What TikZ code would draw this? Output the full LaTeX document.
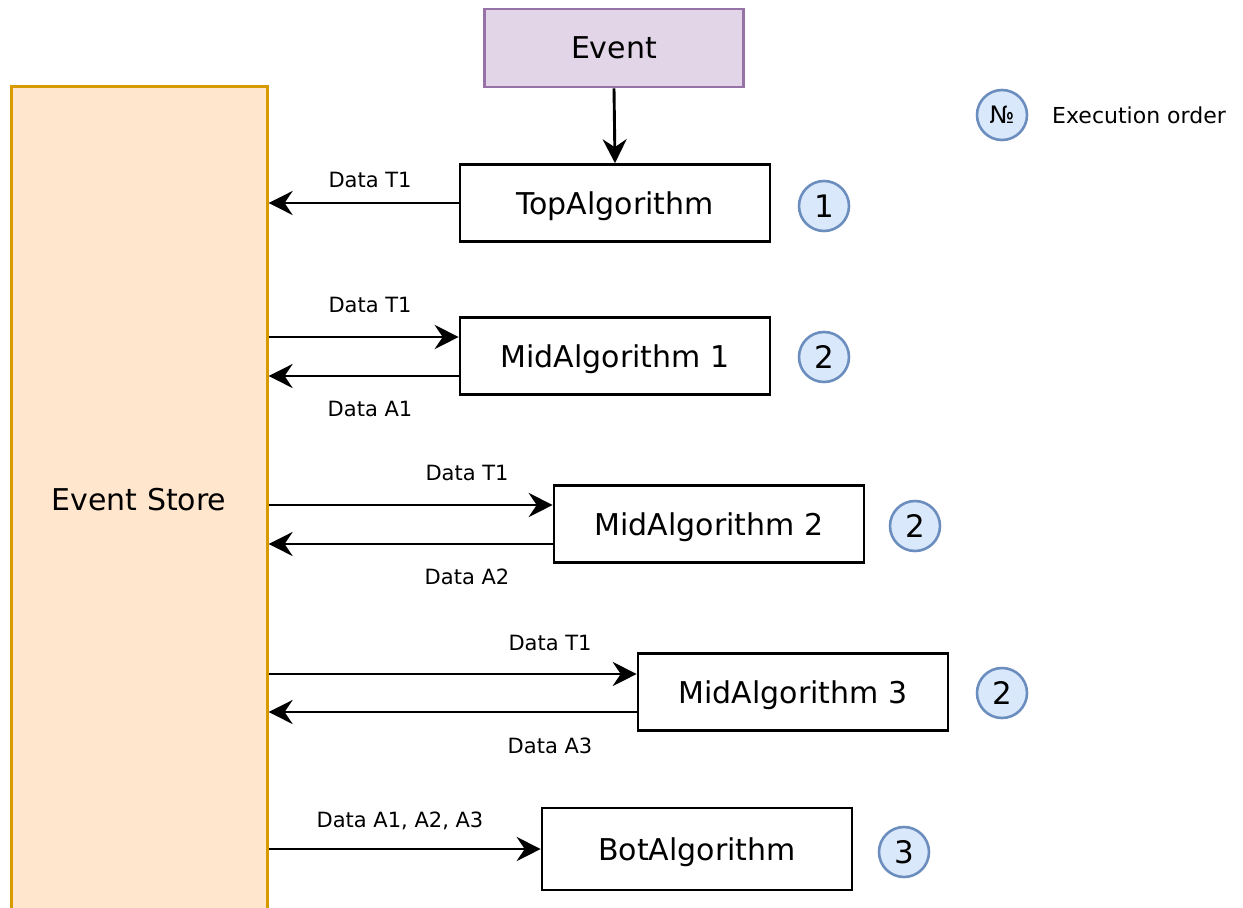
\documentclass[tikz,border=0pt]{standalone}
\usepackage{fontspec}
\setmainfont{DejaVu Sans}
\usetikzlibrary{arrows.meta}
\definecolor{storefill}{HTML}{FFE6CC}
\definecolor{storeline}{HTML}{D79B00}
\definecolor{evfill}{HTML}{E1D5E7}
\definecolor{evline}{HTML}{9673A6}
\definecolor{ordfill}{HTML}{DAE8FC}
\definecolor{ordline}{HTML}{6C8EBF}
\tikzset{
  algbox/.style={draw=black, line width=2.6pt, fill=white, minimum width=310pt,
    minimum height=77pt, inner sep=0pt, text depth=0pt, font=\fontsize{30}{36}\selectfont},
  ordcirc/.style={circle, draw=ordline, fill=ordfill, line width=2.6pt,
    minimum size=50pt, inner sep=0pt, font=\fontsize{31}{36}\selectfont},
  arr/.style={line width=2.9pt, -{Stealth[length=24pt, width=24pt, inset=8pt]}},
  lbl/.style={font=\fontsize{21}{25}\selectfont, inner sep=0pt},
}
\begin{document}
\begin{tikzpicture}[x=1pt, y=-1pt]
\useasboundingbox (0,0) rectangle (1243,908);
\clip (0,0) rectangle (1243,908);

% event store (runs past the lower edge)
\node[draw=storeline, fill=storefill, line width=2.6pt, minimum width=256pt,
  minimum height=850pt, inner sep=0pt, anchor=north west] (store) at (10,85) {};
\node[font=\fontsize{30}{36}\selectfont] (storelbl) at (139,500) {Event Store};

% incoming event
\node[draw=evline, fill=evfill, line width=2.6pt, minimum width=259pt,
  minimum height=78pt, inner sep=0pt, font=\fontsize{30}{36}\selectfont] (event) at (614,48) {Event};

% algorithms
\node[algbox] (top) at (615,203) {TopAlgorithm};
\node[algbox] (mid1) at (615,356) {MidAlgorithm 1};
\node[algbox] (mid2) at (709,524) {MidAlgorithm 2};
\node[algbox] (mid3) at (793,692) {MidAlgorithm 3};
\node[algbox, minimum height=82pt] (bot) at (697,849) {BotAlgorithm};

% execution order markers
\node[ordcirc] (o1) at (824,206) {1};
\node[ordcirc] (o2) at (824,357) {2};
\node[ordcirc] (o3) at (915,526) {2};
\node[ordcirc] (o4) at (1002,693) {2};
\node[ordcirc] (o5) at (904,852) {3};

% legend
\node[ordcirc, font=\fontsize{24}{28}\selectfont] (leg) at (1002,115) {№};
\node[font=\fontsize{22}{26}\selectfont, anchor=west, inner sep=0pt] (legtxt) at (1052,115) {Execution order};

% event into the first algorithm
\draw[arr] (event.south) -- (top.north);

% TopAlgorithm writes T1
\draw[arr] (top.west) -- (top.west -| store.east);
\node[lbl] (l1) at (370,180) {Data T1};

% MidAlgorithm 1
\coordinate (m1in) at ([yshift=19pt]mid1.west);
\coordinate (m1out) at ([yshift=-20pt]mid1.west);
\draw[arr] (m1in -| store.east) -- (m1in);
\draw[arr] (m1out) -- (m1out -| store.east);
\node[lbl] (l2) at (370,305) {Data T1};
\node[lbl] (l3) at (370,409) {Data A1};

% MidAlgorithm 2
\coordinate (m2in) at ([yshift=19pt]mid2.west);
\coordinate (m2out) at ([yshift=-20pt]mid2.west);
\draw[arr] (m2in -| store.east) -- (m2in);
\draw[arr] (m2out) -- (m2out -| store.east);
\node[lbl] (l4) at (467,473) {Data T1};
\node[lbl] (l5) at (467,577) {Data A2};

% MidAlgorithm 3
\coordinate (m3in) at ([yshift=18pt]mid3.west);
\coordinate (m3out) at ([yshift=-20pt]mid3.west);
\draw[arr] (m3in -| store.east) -- (m3in);
\draw[arr] (m3out) -- (m3out -| store.east);
\node[lbl] (l6) at (550,643) {Data T1};
\node[lbl] (l7) at (550,746) {Data A3};

% BotAlgorithm reads A1..A3
\draw[arr] (bot.west -| store.east) -- (bot.west);
\node[lbl] (l8) at (400,821) {Data A1, A2, A3};
\end{tikzpicture}
\end{document}
